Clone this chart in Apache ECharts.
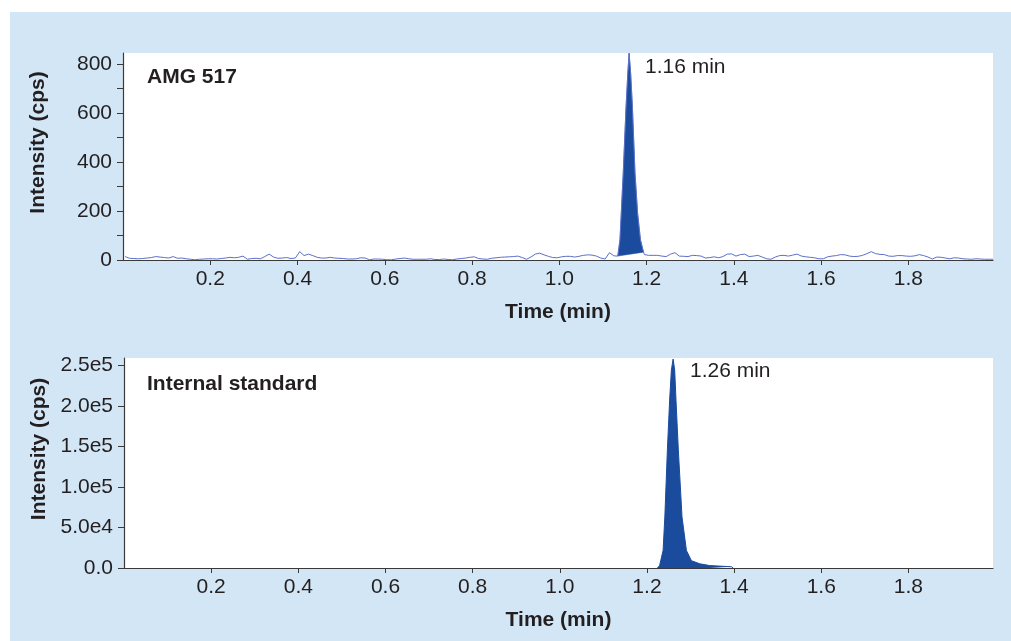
<!DOCTYPE html>
<html>
<head>
<meta charset="utf-8">
<script src="https://cdn.jsdelivr.net/npm/echarts@6/dist/echarts.min.js"></script>
<style>
  html, body { margin: 0; padding: 0; background: #ffffff; }
  #chart { width: 1011px; height: 641px; }
</style>
</head>
<body>
<div id="chart"></div>
<script>
// ---------- DATA ----------
// Shared x axis (Time, min)
const xTickValues = [0.2, 0.4, 0.6, 0.8, 1.0, 1.2, 1.4, 1.6, 1.8];
const xTickLabels = ['0.2', '0.4', '0.6', '0.8', '1.0', '1.2', '1.4', '1.6', '1.8'];
const xMin = 0;
const xMax = 1.994;

// AMG 517 panel
const amgYTickValues = [0, 200, 400, 600, 800];
const amgYTickLabels = ['0', '200', '400', '600', '800'];
const amgYMinorTickValues = [0, 100, 200, 300, 400, 500, 600, 700, 800];
const amgYMax = 845;
const amgLabel = 'AMG 517';
const amgPeakLabel = '1.16 min';
// baseline noise before peak: sampled at 0.005 + 0.01*i min
const amgNoiseAStart = 0.005;
const amgNoiseStep = 0.01;
const amgNoiseA = [
  14, 7, 6, 5, 6, 8, 10, 14, 12, 10,
  8, 14, 7, 8, 5, 3, 1, 3, 4, 5,
  5, 4, 6, 8, 11, 9, 11, 16, 3, 6,
  7, 5, 14, 24, 12, 7, 8, 10, 6, 8,
  34, 18, 24, 18, 11, 8, 8, 11, 8, 7,
  6, 4, 4, 5, 9, 8, 1, 4, 4, 3,
  1, 1, 4, 6, 8, 5, 3, 3, 3, 3,
  5, 2, 2, 4, 2, 1, 4, 6, 8, 11,
  13, 6, 4, 3, 7, 9, 11, 12, 13, 14,
  16, 10, 3, 12, 24, 28, 21, 15, 10, 9,
  13, 15, 15, 12, 15, 19, 21, 20, 16, 8,
  4, 30, 17
];
// peak (integrated, filled)
const amgPeakTimes = [1.134, 1.139, 1.1465, 1.153, 1.157, 1.160, 1.1635, 1.1675, 1.1735, 1.1795, 1.186, 1.193];
const amgPeakValues = [16, 82, 354, 626, 762, 844, 762, 626, 354, 190, 82, 32];
// baseline noise after peak: sampled at 1.195 + 0.01*i min
const amgNoiseBStart = 1.195;
const amgNoiseB = [
  22, 19, 19, 19, 16, 14, 24, 30, 16, 15,
  14, 19, 18, 16, 8, 10, 13, 9, 14, 24,
  25, 16, 22, 24, 14, 16, 19, 12, 5, 3,
  12, 18, 19, 16, 20, 24, 16, 13, 11, 9,
  5, 5, 13, 16, 18, 22, 21, 16, 14, 15,
  19, 26, 34, 26, 23, 22, 16, 15, 18, 18,
  16, 15, 17, 22, 18, 12, 4, 12, 11, 8,
  5, 9, 8, 5, 4, 3, 5, 4, 3, 3
];
const amgEndTime = 1.994;
const amgEndValue = 3;

// Internal standard panel
const isYTickValues = [0, 50000, 100000, 150000, 200000, 250000];
const isYTickLabels = ['0.0', '5.0e4', '1.0e5', '1.5e5', '2.0e5', '2.5e5'];
const isYMax = 259000;
const isLabel = 'Internal standard';
const isPeakLabel = '1.26 min';
const isPeakTimes = [1.224, 1.229, 1.237, 1.241, 1.2468, 1.252, 1.256, 1.260, 1.2636, 1.2666, 1.272, 1.2804, 1.2905, 1.302, 1.321, 1.344, 1.394, 1.398];
const isPeakValues = [0, 3000, 21700, 62900, 145000, 207000, 244000, 257700, 244000, 207000, 145000, 62900, 21700, 9000, 5200, 3000, 1500, 0];

const xName = 'Time (min)';
const yName = 'Intensity (cps)';

// ---------- BUILD ----------
const amgTrace = [];
amgNoiseA.forEach((v, i) => amgTrace.push([+(amgNoiseAStart + i * amgNoiseStep).toFixed(3), v]));
amgPeakTimes.forEach((t, i) => amgTrace.push([t, amgPeakValues[i]]));
amgNoiseB.forEach((v, i) => amgTrace.push([+(amgNoiseBStart + i * amgNoiseStep).toFixed(3), v]));
amgTrace.push([amgEndTime, amgEndValue]);

const amgPeak = amgPeakTimes.map((t, i) => [t, amgPeakValues[i]]);
const isPeak = isPeakTimes.map((t, i) => [t, isPeakValues[i]]);

const FONT = '"Liberation Sans", Arial, Helvetica, sans-serif';
const FS = 21;
const TXT = '#231f20';
const AXIS = '#3a3a3a';
const FILL = '#1a4b9d';
const TRACE = '#5b70c9';

function labelFor(values, labels) {
  return function (v) {
    let best = 0, d = Infinity;
    values.forEach((x, i) => { const dd = Math.abs(x - v); if (dd < d) { d = dd; best = i; } });
    return d < 1e-6 * Math.max(1, Math.abs(v)) + 1e-9 ? labels[best] : '';
  };
}

function xAxisCfg(gridIndex) {
  return {
    type: 'value', gridIndex, min: xMin, max: xMax,
    name: xName, nameLocation: 'middle', nameGap: 42,
    nameTextStyle: { fontFamily: FONT, fontSize: FS, fontWeight: 'bold', color: TXT },
    axisLine: { show: true, lineStyle: { color: AXIS, width: 1.2 } },
    axisTick: { show: true, length: 5, inside: false, customValues: xTickValues, lineStyle: { color: AXIS, width: 1 } },
    axisLabel: { show: true, margin: 9, customValues: xTickValues, formatter: labelFor(xTickValues, xTickLabels),
      fontFamily: FONT, fontSize: FS, color: TXT },
    splitLine: { show: false }
  };
}

function yAxisCfg(gridIndex, max, tickVals, labelVals, labels) {
  return {
    type: 'value', gridIndex, min: 0, max,
    name: yName, nameLocation: 'middle', nameGap: 74,
    nameTextStyle: { fontFamily: FONT, fontSize: FS, fontWeight: 'bold', color: TXT, padding: [0, 0, 0, 28] },
    axisLine: { show: true, lineStyle: { color: AXIS, width: 1.2 } },
    axisTick: { show: true, length: 6, customValues: tickVals, lineStyle: { color: AXIS, width: 1 } },
    axisLabel: { show: true, margin: 11, customValues: labelVals, formatter: labelFor(labelVals, labels),
      fontFamily: FONT, fontSize: FS, color: TXT },
    splitLine: { show: false }
  };
}

const chart = echarts.init(document.getElementById('chart'), null, { renderer: 'canvas' });

const option = {
  backgroundColor: '#ffffff',
  animation: false,
  graphic: [
    { type: 'rect', z: -100, silent: true, shape: { x: 10, y: 12, width: 1001, height: 629 }, style: { fill: '#d3e6f5' } },
    { type: 'text', z: 100, x: 147, y: 77, style: { text: amgLabel, font: 'bold ' + FS + 'px ' + FONT, fill: TXT, verticalAlign: 'middle' } },
    { type: 'text', z: 100, x: 645, y: 67, style: { text: amgPeakLabel, font: FS + 'px ' + FONT, fill: TXT, verticalAlign: 'middle' } },
    { type: 'text', z: 100, x: 147, y: 384, style: { text: isLabel, font: 'bold ' + FS + 'px ' + FONT, fill: TXT, verticalAlign: 'middle' } },
    { type: 'text', z: 100, x: 690, y: 371, style: { text: isPeakLabel, font: FS + 'px ' + FONT, fill: TXT, verticalAlign: 'middle' } }
  ],
  grid: [
    { left: 123, top: 53, width: 870, height: 207, show: true, backgroundColor: '#ffffff', borderWidth: 0 },
    { left: 124, top: 358, width: 869, height: 210, show: true, backgroundColor: '#ffffff', borderWidth: 0 }
  ],
  xAxis: [xAxisCfg(0), xAxisCfg(1)],
  yAxis: [
    yAxisCfg(0, amgYMax, amgYMinorTickValues, amgYTickValues, amgYTickLabels),
    yAxisCfg(1, isYMax, isYTickValues, isYTickValues, isYTickLabels)
  ],
  series: [
    {
      name: 'AMG 517 peak', type: 'custom', xAxisIndex: 0, yAxisIndex: 0, data: amgPeak, z: 3, clip: true,
      renderItem: function (params, api) {
        if (params.dataIndex !== 0) return null;
        const pts = amgPeak.map(p => api.coord(p));
        return { type: 'polygon', shape: { points: pts }, style: { fill: FILL, stroke: FILL, lineWidth: 0.5 } };
      }
    },
    {
      name: 'AMG 517 trace', type: 'line', xAxisIndex: 0, yAxisIndex: 0, data: amgTrace, z: 4,
      showSymbol: false, symbol: 'none', smooth: false,
      lineStyle: { color: TRACE, width: 1 }
    },
    {
      name: 'Internal standard', type: 'line', xAxisIndex: 1, yAxisIndex: 1, data: isPeak, z: 3,
      showSymbol: false, symbol: 'none', smooth: false,
      lineStyle: { color: FILL, width: 1 },
      areaStyle: { color: FILL, opacity: 1 }
    }
  ]
};
chart.setOption(option);
</script>
</body>
</html>
